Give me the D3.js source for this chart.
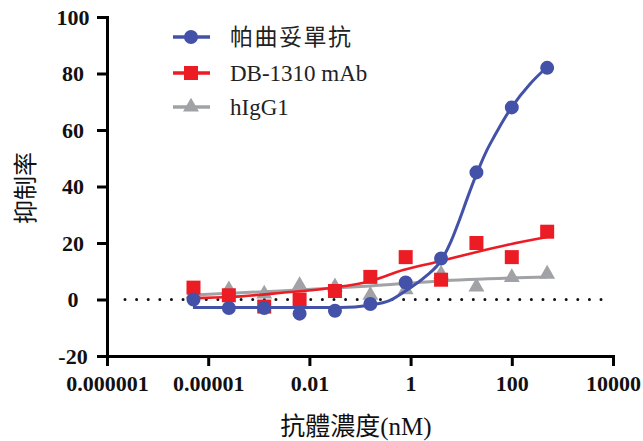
<!DOCTYPE html>
<html>
<head>
<meta charset="utf-8">
<script src="https://cdn.jsdelivr.net/npm/d3@7"></script>
<style>
  html, body { margin: 0; padding: 0; background: #fff; }
  svg { display: block; }
</style>
</head>
<body>
<svg id="chart" width="643" height="441"></svg>
<script>
// ---- Data ----
const concentrations = [0.0000512, 0.000256, 0.00128, 0.0064, 0.032, 0.16, 0.8, 4, 20, 100, 500];
const pertuzumab = [0, -3, -3, -5, -4, -1.6, 6, 14.5, 45, 68, 82];
const db1310 = [4.2, 1.5, -2.5, 0, 3, 8, 15, 7, 20, 15, 24];
const higg1 = [2, 3.5, 2, 5, 4.5, 1.5, 3.5, 9, 4.5, 7.8, 9];

// fitted curves
const pertuzumabFitX = [0.00005, 0.04, 0.158, 0.392, 0.85, 1.93, 4.18, 6.29, 9.46, 13.6, 20.5, 30.9, 46.6, 67, 100, 229, 500];
const pertuzumabFitY = [-2.8, -2.8, -2.0, -0.35, 3.4, 8.0, 14.3, 20.6, 28.7, 36.5, 44.8, 52.2, 58.2, 63.2, 68.1, 76.3, 82.3];
const db1310FitX = [0.00005, 0.00027, 0.0026, 0.026, 0.158, 0.71, 3.3, 17, 80, 500];
const db1310FitY = [0.5, 0.9, 2.3, 4.1, 6.5, 10.4, 13.3, 16.5, 19.3, 22.1];
const higg1FitX = [0.00005, 0.0026, 0.158, 3.3, 500];
const higg1FitY = [1.6, 3.0, 4.8, 6.5, 8.0];

const seriesNames = ["帕曲妥單抗", "DB-1310 mAb", "hIgG1"];
const seriesColors = ["#4352a8", "#ec1c24", "#a1a2a6"];

const xTickValues = [1e-6, 1e-4, 1e-2, 1, 100, 10000];
const xTickLabels = ["0.000001", "0.00001", "0.01", "1", "100", "10000"];
const yTickValues = [-20, 0, 20, 40, 60, 80, 100];
const yTickLabels = ["-20", "0", "20", "40", "60", "80", "100"];

const xTitle = "抗體濃度(nM)";
const yTitle = "抑制率";

// ---- Layout ----
const svg = d3.select("#chart");
const plotLeft = 107, plotRight = 613, plotTop = 17, plotBottom = 356;

const x = d3.scaleLog().domain([1e-6, 1e4]).range([plotLeft, plotRight]);
const y = d3.scaleLinear().domain([-20, 100]).range([plotBottom, plotTop]);

const serif = "'Liberation Serif', 'Times New Roman', serif";
const cjk = "'Liberation Serif', 'Noto Sans CJK TC', 'Noto Sans CJK SC', serif";

// zero dotted line
svg.append("line")
  .attr("x1", 125).attr("x2", 607)
  .attr("y1", y(0)).attr("y2", y(0))
  .attr("stroke", "#111").attr("stroke-width", 3)
  .attr("stroke-linecap", "round")
  .attr("stroke-dasharray", "0.01 11.6");

// axes
const yAxis = d3.axisLeft(y).tickValues(yTickValues).tickSize(10).tickSizeOuter(0)
  .tickFormat((d, i) => yTickLabels[i]);
const xAxis = d3.axisBottom(x).tickValues(xTickValues).tickSize(10).tickSizeOuter(0)
  .tickFormat((d, i) => xTickLabels[i]);

const gy = svg.append("g").attr("transform", `translate(${plotLeft},0)`).call(yAxis);
const gx = svg.append("g").attr("transform", `translate(0,${plotBottom})`).call(xAxis);

[gx, gy].forEach(g => {
  g.attr("font-family", serif);
  g.select(".domain").attr("stroke", "#000").attr("stroke-width", 3).attr("stroke-linecap", "square");
  g.selectAll(".tick line").attr("stroke", "#000").attr("stroke-width", 3);
  g.selectAll(".tick text")
    .attr("font-family", serif).attr("font-weight", "bold")
    .attr("font-size", 22).attr("fill", "#111");
});
gy.selectAll(".tick text").attr("text-anchor", "middle").attr("x", -34).attr("dy", "0.34em");
gx.selectAll(".tick text").attr("y", 27).attr("dy", "0.35em");

// axis titles
svg.append("text")
  .attr("x", 356).attr("y", 435)
  .attr("text-anchor", "middle")
  .attr("font-family", cjk).attr("font-size", 25).attr("fill", "#111")
  .text(xTitle);

svg.append("text")
  .attr("transform", "translate(34,188) rotate(-90)")
  .attr("text-anchor", "middle")
  .attr("font-family", "'Noto Sans CJK TC', sans-serif").attr("font-size", 24).attr("fill", "#111")
  .text(yTitle);

// series
const line = d3.line().x(d => x(d[0])).y(d => y(d[1])).curve(d3.curveMonotoneX);

const symbols = [d3.symbolCircle, d3.symbolSquare, d3.symbolTriangle];
const symbolSizes = [154, 196, 110];

const series = [
  { values: pertuzumab, fx: pertuzumabFitX, fy: pertuzumabFitY, width: 3 },
  { values: db1310, fx: db1310FitX, fy: db1310FitY, width: 2.6 },
  { values: higg1, fx: higg1FitX, fy: higg1FitY, width: 3 }
];

// draw order: grey, red, blue (blue on top)
[2, 1, 0].forEach(i => {
  const s = series[i];
  const g = svg.append("g");
  g.append("path")
    .datum(s.fx.map((c, j) => [c, s.fy[j]]))
    .attr("fill", "none").attr("stroke", seriesColors[i]).attr("stroke-width", s.width)
    .attr("d", line);
  g.selectAll("path.pt")
    .data(concentrations.map((c, j) => [c, s.values[j]]))
    .join("path").attr("class", "pt")
    .attr("transform", d => `translate(${x(d[0])},${y(d[1])})`)
    .attr("d", d3.symbol().type(symbols[i]).size(symbolSizes[i]))
    .attr("fill", seriesColors[i]);
});

// legend
const legendY = [37, 73, 107];
seriesNames.forEach((name, i) => {
  const g = svg.append("g").attr("transform", `translate(0,${legendY[i]})`);
  g.append("line").attr("x1", 173).attr("x2", 210).attr("y1", 0).attr("y2", 0)
    .attr("stroke", seriesColors[i]).attr("stroke-width", 3.5);
  g.append("path").attr("transform", "translate(191,0)")
    .attr("d", d3.symbol().type(symbols[i]).size(symbolSizes[i]))
    .attr("fill", seriesColors[i]);
  g.append("text").attr("x", 230).attr("y", 0).attr("dy", "0.35em")
    .attr("font-family", cjk).attr("font-size", 23).attr("fill", "#222")
    .attr("letter-spacing", i === 0 ? 1.5 : 0)
    .text(name);
});
</script>
</body>
</html>
